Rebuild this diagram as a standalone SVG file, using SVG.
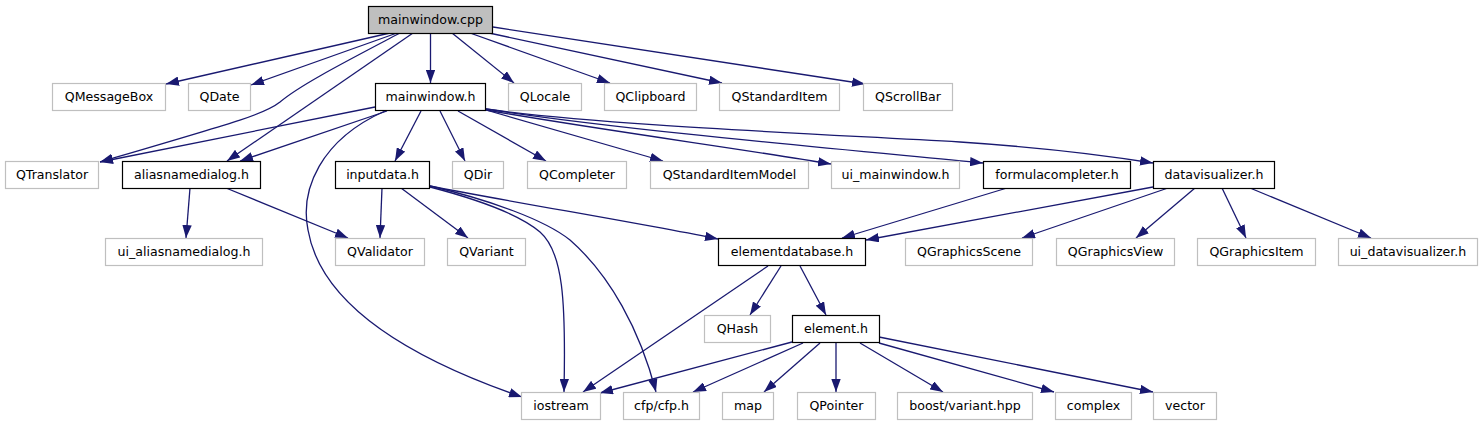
<svg xmlns="http://www.w3.org/2000/svg" width="1484" height="427" viewBox="0 0 1484 427">
<style>
.n rect{fill:#fff;stroke:#bfbfbf;stroke-width:1.2}
.d rect{fill:#fff;stroke:#000;stroke-width:1.2}
.r rect{fill:#bfbfbf;stroke:#000;stroke-width:1.2}
text{font-family:"DejaVu Sans","Liberation Sans",sans-serif;font-size:12.6px;fill:#000;text-anchor:middle}
.e path{fill:none;stroke:#191970;stroke-width:1.3;marker-end:url(#a)}
</style>
<defs>
<marker id="a" markerUnits="userSpaceOnUse" markerWidth="13" markerHeight="9.4" viewBox="0 0 13 9.4" refX="13" refY="4.7" orient="auto">
<path d="M0,0 L13,4.7 L0,9.4 z" fill="#191970"/>
</marker>
</defs>
<rect width="1484" height="427" fill="#fff"/>
<g class="e" id="edges">
<path d="M390,33 L166,84"/>
<path d="M397,33 L251,85"/>
<path d="M400,33 C345,62 300,85 280,102 C265,114 240,121 100,162"/>
<path d="M413,33 L227,161"/>
<path d="M430.5,33 L430.5,83"/>
<path d="M452,33 L514,83"/>
<path d="M470,33 L610,83"/>
<path d="M489,33 L722,83"/>
<path d="M493,27 L865,84"/>
<path d="M375,107 L100,162"/>
<path d="M387,111 L240,161"/>
<path d="M385,111 C320,140 300,190 308,230 C320,300 400,355 522,397"/>
<path d="M421,111 L395,161"/>
<path d="M440,111 L465,161"/>
<path d="M458,111 L546,161"/>
<path d="M486,110 L663,161"/>
<path d="M486,110 C600,130 750,150 831,164"/>
<path d="M486,109 C620,130 850,150 983,163"/>
<path d="M486,109 C600,125 800,133 960,142 C1050,148 1110,156 1153,163"/>
<path d="M190,188 L186,238"/>
<path d="M226,188 L348,238"/>
<path d="M382,188 L380,238"/>
<path d="M401,188 L468,238"/>
<path d="M430,186 C500,200 650,225 718,239"/>
<path d="M430,187 C480,200 520,215 540,232 C563,252 566,300 564,392"/>
<path d="M430,186 C490,200 545,220 570,240 C610,275 640,330 656,392"/>
<path d="M1007,188 L842,238"/>
<path d="M1153,187 L866,240"/>
<path d="M1168,188 L1022,238"/>
<path d="M1195,188 L1136,238"/>
<path d="M1222,188 L1246,238"/>
<path d="M1250,188 L1371,238"/>
<path d="M768,266 L583,392"/>
<path d="M781,266 L750,315"/>
<path d="M800,266 L826,315"/>
<path d="M792,342 L600,393"/>
<path d="M803,343 L693,392"/>
<path d="M820,343 L764,392"/>
<path d="M836,343 L836,392"/>
<path d="M860,343 L943,392"/>
<path d="M879,343 L1054,392"/>
<path d="M879,337 L1153,392"/>
</g>
<g id="mainwindow_cpp" class="r"><rect x="368.5" y="6.5" width="124" height="27"/><text x="430.5" y="24">mainwindow.cpp</text></g>
<g id="QMessageBox" class="n"><rect x="52.5" y="83.5" width="113" height="27"/><text x="109" y="101">QMessageBox</text></g>
<g id="QDate" class="n"><rect x="188.5" y="83.5" width="62" height="27"/><text x="219.5" y="101">QDate</text></g>
<g id="mainwindow_h" class="d"><rect x="375.5" y="83.5" width="110" height="27"/><text x="430.5" y="101">mainwindow.h</text></g>
<g id="QLocale" class="n"><rect x="508.5" y="83.5" width="73" height="27"/><text x="545" y="101">QLocale</text></g>
<g id="QClipboard" class="n"><rect x="604.5" y="83.5" width="92" height="27"/><text x="650.5" y="101">QClipboard</text></g>
<g id="QStandardItem" class="n"><rect x="719.5" y="83.5" width="120" height="27"/><text x="779.5" y="101">QStandardItem</text></g>
<g id="QScrollBar" class="n"><rect x="863.5" y="83.5" width="89" height="27"/><text x="908" y="101">QScrollBar</text></g>
<g id="QTranslator" class="n"><rect x="5.5" y="161.5" width="93" height="27"/><text x="52" y="179">QTranslator</text></g>
<g id="aliasnamedialog_h" class="d"><rect x="122.5" y="161.5" width="138" height="27"/><text x="191.5" y="179">aliasnamedialog.h</text></g>
<g id="inputdata_h" class="d"><rect x="335.5" y="161.5" width="94" height="27"/><text x="382.5" y="179">inputdata.h</text></g>
<g id="QDir" class="n"><rect x="452.5" y="161.5" width="51" height="27"/><text x="478" y="179">QDir</text></g>
<g id="QCompleter" class="n"><rect x="527.5" y="161.5" width="99" height="27"/><text x="577" y="179">QCompleter</text></g>
<g id="QStandardItemModel" class="n"><rect x="650.5" y="161.5" width="158" height="27"/><text x="729.5" y="179">QStandardItemModel</text></g>
<g id="ui_mainwindow_h" class="n"><rect x="831.5" y="161.5" width="128" height="27"/><text x="895.5" y="179">ui_mainwindow.h</text></g>
<g id="formulacompleter_h" class="d"><rect x="983.5" y="161.5" width="147" height="27"/><text x="1057" y="179">formulacompleter.h</text></g>
<g id="datavisualizer_h" class="d"><rect x="1153.5" y="161.5" width="121" height="27"/><text x="1214" y="179">datavisualizer.h</text></g>
<g id="ui_aliasnamedialog_h" class="n"><rect x="105.5" y="238.5" width="157" height="27"/><text x="184" y="256">ui_aliasnamedialog.h</text></g>
<g id="QValidator" class="n"><rect x="335.5" y="238.5" width="89" height="27"/><text x="380" y="256">QValidator</text></g>
<g id="QVariant" class="n"><rect x="447.5" y="238.5" width="78" height="27"/><text x="486.5" y="256">QVariant</text></g>
<g id="elementdatabase_h" class="d"><rect x="718.5" y="238.5" width="147" height="27"/><text x="792" y="256">elementdatabase.h</text></g>
<g id="QGraphicsScene" class="n"><rect x="905.5" y="238.5" width="127" height="27"/><text x="969" y="256">QGraphicsScene</text></g>
<g id="QGraphicsView" class="n"><rect x="1056.5" y="238.5" width="118" height="27"/><text x="1115.5" y="256">QGraphicsView</text></g>
<g id="QGraphicsItem" class="n"><rect x="1197.5" y="238.5" width="118" height="27"/><text x="1256.5" y="256">QGraphicsItem</text></g>
<g id="ui_datavisualizer_h" class="n"><rect x="1338.5" y="238.5" width="139" height="27"/><text x="1408" y="256">ui_datavisualizer.h</text></g>
<g id="QHash" class="n"><rect x="704.5" y="315.5" width="66" height="27"/><text x="737.5" y="333">QHash</text></g>
<g id="element_h" class="d"><rect x="792.5" y="315.5" width="87" height="27"/><text x="836" y="333">element.h</text></g>
<g id="iostream" class="n"><rect x="521.5" y="392.5" width="79" height="27"/><text x="561" y="410">iostream</text></g>
<g id="cfp_h" class="n"><rect x="623.5" y="392.5" width="76" height="27"/><text x="661.5" y="410">cfp/cfp.h</text></g>
<g id="map" class="n"><rect x="722.5" y="392.5" width="51" height="27"/><text x="748" y="410">map</text></g>
<g id="QPointer" class="n"><rect x="797.5" y="392.5" width="78" height="27"/><text x="836.5" y="410">QPointer</text></g>
<g id="boost_variant" class="n"><rect x="897.5" y="392.5" width="135" height="27"/><text x="965" y="410">boost/variant.hpp</text></g>
<g id="complex" class="n"><rect x="1055.5" y="392.5" width="76" height="27"/><text x="1093.5" y="410">complex</text></g>
<g id="vector" class="n"><rect x="1153.5" y="392.5" width="63" height="27"/><text x="1185" y="410">vector</text></g>
</svg>
